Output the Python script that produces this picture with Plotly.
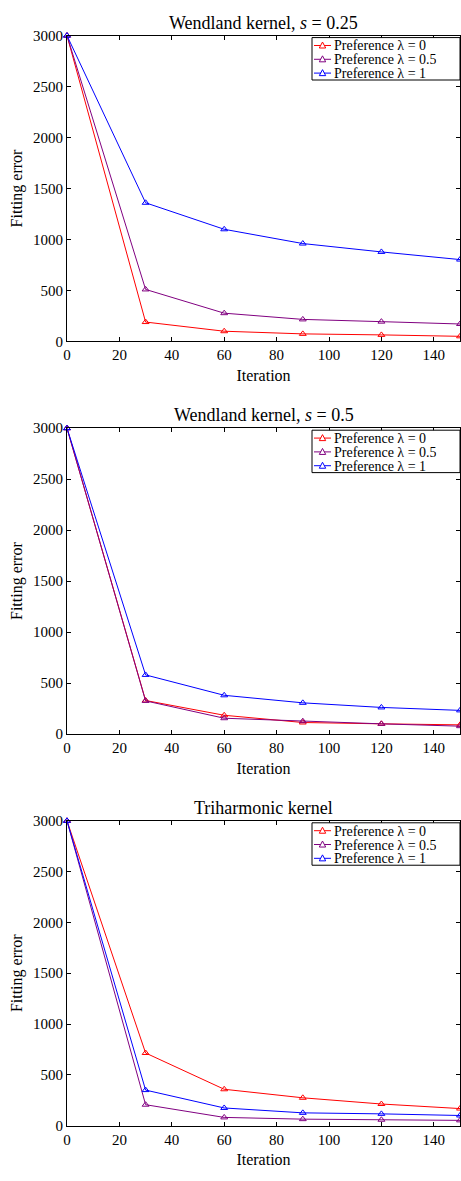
import plotly.graph_objects as go

iterations = [0, 30, 60, 90, 120, 150]

# Panel 1: Wendland kernel, s = 0.25
p1_l0 = [3000, 190, 100, 74, 64, 50]
p1_l05 = [3000, 510, 277, 216, 194, 171]
p1_l1 = [3000, 1360, 1100, 960, 878, 803]

# Panel 2: Wendland kernel, s = 0.5
p2_l0 = [3000, 329, 184, 113, 100, 90]
p2_l05 = [3000, 325, 155, 126, 100, 77]
p2_l1 = [3000, 580, 380, 306, 261, 232]

# Panel 3: Triharmonic kernel
p3_l0 = [3000, 715, 358, 274, 213, 168]
p3_l05 = [3000, 206, 81, 64, 58, 52]
p3_l1 = [3000, 350, 174, 126, 116, 100]

titles = ["Wendland kernel, <i>s</i> = 0.25", "Wendland kernel, <i>s</i> = 0.5", "Triharmonic kernel"]
series_names = ["Preference λ = 0", "Preference λ = 0.5", "Preference λ = 1"]
colors = ["#ff0000", "#800080", "#0000ff"]
x_ticks = [0, 20, 40, 60, 80, 100, 120, 140]
y_ticks = [0, 500, 1000, 1500, 2000, 2500, 3000]

panels = [[p1_l0, p1_l05, p1_l1], [p2_l0, p2_l05, p2_l1], [p3_l0, p3_l05, p3_l1]]

H = 1181
W = 461
L = 67
R = 1
PW = W - L - R
pix = [(28, 338), (426, 736), (824, 1133)]
FONT = "Liberation Serif"


def px2x(px):
    return (px - L) / PW


def py2y(py):
    return 1 - py / H


fig = go.Figure()
layout = dict(
    width=W, height=H,
    margin=dict(l=L, r=R, t=0, b=0),
    paper_bgcolor="white", plot_bgcolor="white",
    font=dict(family=FONT, size=15, color="black"),
    showlegend=False,
    annotations=[], shapes=[],
)

for i, data in enumerate(panels):
    k = i + 1
    xa = "x" if k == 1 else f"x{k}"
    ya = "y" if k == 1 else f"y{k}"
    for j, vals in enumerate(data):
        fig.add_trace(go.Scatter(
            x=iterations, y=vals, mode="lines+markers", name=series_names[j],
            line=dict(color=colors[j], width=1),
            marker=dict(symbol="triangle-up-open", size=6, color=colors[j], line=dict(width=1)),
            xaxis=xa, yaxis=ya, cliponaxis=False, showlegend=False,
        ))
    top, bot = pix[i]
    dom = [py2y(bot), py2y(top)]
    axcommon = dict(showline=True, linecolor="black", linewidth=1, mirror="ticks",
                    ticks="inside", ticklen=4, tickcolor="black", showgrid=False,
                    zeroline=False, tickfont=dict(family=FONT, size=15, color="black"))
    layout["xaxis" if k == 1 else f"xaxis{k}"] = dict(
        axcommon, domain=[0, 1], range=[0, 150], tickvals=x_ticks, anchor=ya,
        title=dict(text="Iteration", font=dict(family=FONT, size=16), standoff=7))
    layout["yaxis" if k == 1 else f"yaxis{k}"] = dict(
        axcommon, domain=dom, range=[0, 3000], tickvals=y_ticks, anchor=xa,
        title=dict(text="Fitting error", font=dict(family=FONT, size=16), standoff=6))
    # title
    layout["annotations"].append(dict(
        text=titles[i], x=0.5, xref="paper", y=dom[1], yref="paper",
        yanchor="bottom", yshift=1, showarrow=False, font=dict(family=FONT, size=18)))
    # manual legend box
    bx0, bx1 = 312, 460
    by0, by1 = top + 2, top + 45
    layout["shapes"].append(dict(
        type="rect", xref="paper", yref="paper",
        x0=px2x(bx0), x1=px2x(bx1), y0=py2y(by1), y1=py2y(by0),
        line=dict(color="black", width=1), fillcolor="white", layer="above"))
    for j in range(3):
        ry = top + 10 + 14 * j
        layout["shapes"].append(dict(
            type="line", xref="paper", yref="paper",
            x0=px2x(314), x1=px2x(331), y0=py2y(ry), y1=py2y(ry),
            line=dict(color=colors[j], width=1), layer="above"))
        tx, ts = 322.5, 3.2
        path = "M {:.5f} {:.5f} L {:.5f} {:.5f} L {:.5f} {:.5f} Z".format(
            px2x(tx - ts), py2y(ry + ts * 0.8),
            px2x(tx + ts), py2y(ry + ts * 0.8),
            px2x(tx), py2y(ry - ts * 1.1))
        layout["shapes"].append(dict(
            type="path", xref="paper", yref="paper", path=path,
            line=dict(color=colors[j], width=1), fillcolor="white", layer="above"))
        layout["annotations"].append(dict(
            text=series_names[j], x=px2x(333), xref="paper", y=py2y(ry), yref="paper",
            xanchor="left", yanchor="middle", showarrow=False, height=12,
            borderpad=0, font=dict(family=FONT, size=14, color="black")))

fig.update_layout(**layout)
fig.write_html("out.html")
